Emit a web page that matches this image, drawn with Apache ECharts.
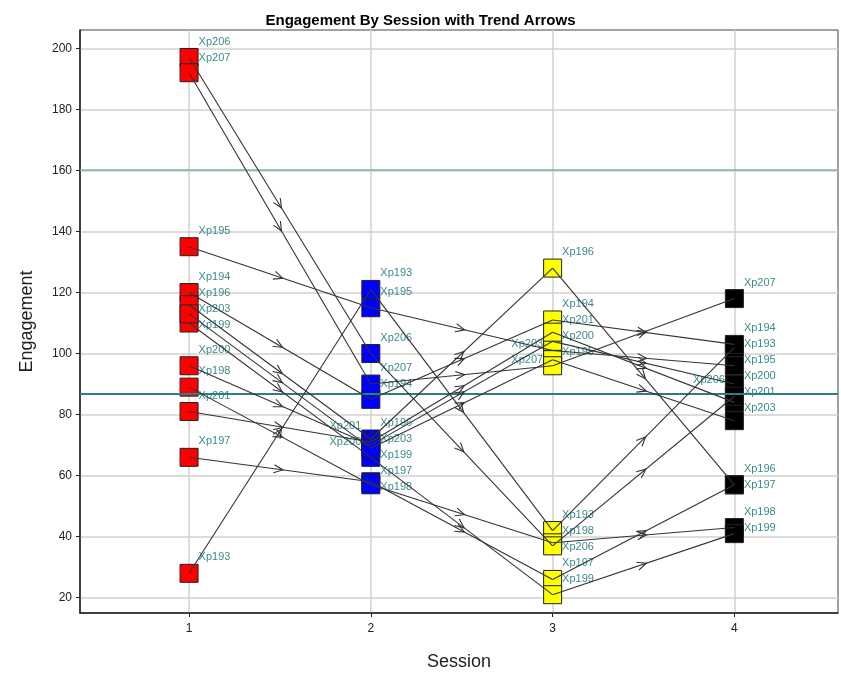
<!DOCTYPE html>
<html>
<head>
<meta charset="utf-8">
<script src="https://cdn.jsdelivr.net/npm/echarts@6/dist/echarts.min.js"></script>
<style>
  html, body { margin: 0; padding: 0; background: #fff; }
  #chart { width: 841px; height: 676px; }
</style>
</head>
<body>
<div id="chart"></div>
<script>
// 数据
const sessions = [1, 2, 3, 4];
const participants = ["Xp193", "Xp194", "Xp195", "Xp196", "Xp197", "Xp198", "Xp199", "Xp200", "Xp201", "Xp203", "Xp206", "Xp207"];
const session1 = [28, 120, 135, 116, 66, 89, 110, 96, 81, 113, 197, 192];
const session2 = [121, 85, 115, 72, 58, 57, 66, 70, 71, 69, 100, 90];
const session3 = [42, 111, 101, 128, 26, 38, 21, 104, 107, 98, 37, 96];
const session4 = [102, 103, 96, 57, 57, 43, 41, 90, 84, 78, 86, 118];
const refLines = [160.3, 86.7];
const yTicks = [20, 40, 60, 80, 100, 120, 140, 160, 180, 200];

const sessionValues = [session1, session2, session3, session4];
const sessionColors = ["#ff0000", "#0000ff", "#ffff00", "#000000"];
// 标签放在左边的点 (避免重叠)
const leftLabels = {2: ["Xp201", "Xp200"], 3: ["Xp203", "Xp207"], 4: ["Xp206"]};
const labelFont = "Liberation Sans, Arial, sans-serif";

// 线段: 每个人相邻两次 session
let segData = [];
participants.forEach((p, i) => {
  for (let s = 0; s < sessions.length - 1; s++) {
    segData.push([sessions[s], sessionValues[s][i], sessions[s + 1], sessionValues[s + 1][i]]);
  }
});

function renderSeg(params, api) {
  let a = api.coord([api.value(0), api.value(1)]);
  let b = api.coord([api.value(2), api.value(3)]);
  let ang = Math.atan2(b[1] - a[1], b[0] - a[0]);
  let tx = (a[0] + b[0]) / 2 + 3 * Math.cos(ang);
  let ty = (a[1] + b[1]) / 2 + 3 * Math.sin(ang);
  let len = 10, spread = 0.42;
  let p1 = [tx - len * Math.cos(ang - spread), ty - len * Math.sin(ang - spread)];
  let p2 = [tx - len * Math.cos(ang + spread), ty - len * Math.sin(ang + spread)];
  let st = {stroke: "#333", lineWidth: 1.1, fill: null};
  return {
    type: "group",
    children: [
      {type: "line", shape: {x1: a[0], y1: a[1], x2: b[0], y2: b[1]}, style: st},
      {type: "polyline", shape: {points: [p1, [tx, ty], p2]}, style: st}
    ]
  };
}

function makeScatter(offsets) {
  return sessions.map((s, k) => ({
    type: "scatter",
    symbol: "rect",
    symbolSize: 18,
    z: 2,
    itemStyle: {color: sessionColors[k], borderColor: "#222", borderWidth: 1, opacity: 1},
    label: {
      show: true,
      position: "right",
      distance: 0,
      offset: [0, -16],
      formatter: p => p.data.value[2],
      color: "#3b8a8c",
      fontFamily: labelFont,
      fontSize: 11
    },
    data: participants.map((p, i) => {
      let item = {value: [s, sessionValues[k][i], p]};
      if (offsets) {
        let left = (leftLabels[s] || []).indexOf(p) >= 0;
        item.label = {position: left ? "left" : "right", offset: [0, offsets[k][i]]};
      }
      return item;
    })
  }));
}

let extraSeries = [
  {
    type: "custom",
    z: 5,
    silent: true,
    renderItem: renderSeg,
    encode: {x: [0, 2], y: [1, 3]},
    data: segData
  },
  {
    type: "line",
    data: [],
    silent: true,
    markLine: {
      silent: true,
      symbol: "none",
      label: {show: false},
      data: [
        {yAxis: refLines[0], lineStyle: {color: "#78b0b0", width: 1.5, type: "solid"}},
        {yAxis: refLines[1], lineStyle: {color: "#2c7d84", width: 2, type: "solid"}}
      ]
    }
  }
];

let chart = echarts.init(document.getElementById("chart"));
chart.setOption({
  animation: false,
  title: {
    text: "Engagement By Session with Trend Arrows",
    left: "center",
    top: 8,
    textStyle: {fontFamily: labelFont, fontWeight: "bold", fontSize: 15, color: "#000"}
  },
  grid: {left: 80, right: 3, top: 30, bottom: 58, show: true, borderColor: "#444", borderWidth: 1},
  xAxis: {
    type: "value",
    min: 0.4,
    max: 4.57,
    name: "Session",
    nameLocation: "middle",
    nameGap: 40,
    nameTextStyle: {fontFamily: labelFont, fontSize: 18, color: "#222"},
    axisLine: {show: true, onZero: false, lineStyle: {color: "#222", width: 1.5}},
    axisTick: {show: true, customValues: sessions, length: 4, lineStyle: {color: "#222"}},
    axisLabel: {customValues: sessions, fontFamily: labelFont, fontSize: 12, color: "#222", margin: 10},
    splitLine: {show: true, lineStyle: {color: "#d0d0d0", width: 1.5}}
  },
  yAxis: {
    type: "value",
    min: 15,
    max: 206,
    name: "Engagement",
    nameLocation: "middle",
    nameGap: 44,
    nameTextStyle: {fontFamily: labelFont, fontSize: 18, color: "#222"},
    axisLine: {show: true, onZero: false, lineStyle: {color: "#222", width: 1.5}},
    axisTick: {show: true, customValues: yTicks, length: 4, lineStyle: {color: "#222"}},
    axisLabel: {customValues: yTicks, fontFamily: labelFont, fontSize: 12, color: "#222", margin: 8},
    splitLine: {show: true, lineStyle: {color: "#d0d0d0", width: 1.5}}
  },
  series: makeScatter(null).concat(extraSeries)
});

// 标签避让: 每个 session 每一侧按 y 排序, 往下推
let offsets = sessions.map((s, k) => {
  let res = new Array(participants.length).fill(-16);
  ["left", "right"].forEach(side => {
    let idx = participants.map((p, i) => i).filter(i => {
      let left = (leftLabels[s] || []).indexOf(participants[i]) >= 0;
      return side === "left" ? left : !left;
    });
    let items = idx.map(i => {
      let py = chart.convertToPixel({gridIndex: 0}, [s, sessionValues[k][i]])[1];
      return {i: i, py: py, want: py - 16};
    }).sort((a, b) => a.want - b.want || a.i - b.i);
    let last = -1e9;
    items.forEach(it => {
      let y = Math.max(it.want, last + 16);
      res[it.i] = y - it.py;
      last = y;
    });
  });
  return res;
});

chart.setOption({series: makeScatter(offsets).concat(extraSeries)});
</script>
</body>
</html>
